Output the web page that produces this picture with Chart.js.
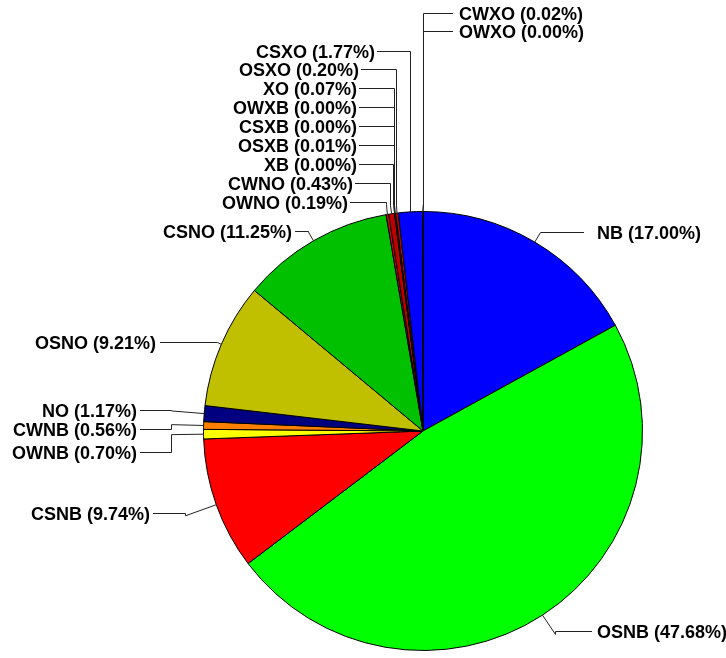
<!DOCTYPE html>
<html>
<head>
<meta charset="utf-8">
<script src="https://cdn.jsdelivr.net/npm/chart.js@4.4.1/dist/chart.umd.min.js"></script>
<style>
  html, body { margin: 0; padding: 0; background: #fff; }
  #wrap { width: 726px; height: 658px; }
</style>
</head>
<body>
<div id="wrap"><canvas id="pie"></canvas></div>
<script>
// slice data, clockwise from 12 o'clock
const categories = ['NB', 'OSNB', 'CSNB', 'OWNB', 'CWNB', 'NO', 'OSNO', 'CSNO', 'OWNO', 'CWNO',
  'XB', 'OSXB', 'CSXB', 'OWXB', 'XO', 'OSXO', 'CSXO', 'CWXO', 'OWXO'];
const shares = [17.00, 47.68, 9.74, 0.70, 0.56, 1.17, 9.21, 11.25, 0.19, 0.43,
  0.00, 0.01, 0.00, 0.00, 0.07, 0.20, 1.77, 0.02, 0.00];
const colors = ['#0000ff', '#00ff00', '#ff0000', '#ffff00', '#ff8000', '#000080', '#c0c000', '#00c000', '#e00000', '#c00000',
  '#ffff00', '#c0a000', '#ff8000', '#ffff00', '#800000', '#c00000', '#0000ff', '#000080', '#ffff00'];

// where each label sits: side, leader y, text x, leader end x, radial knee length
const labelPos = {
  NB:   {side: 'R', y: 232, tx: 597, lx: 584, ext: 11},
  OSNB: {side: 'R', y: 631, tx: 597, lx: 592, ext: 23},
  CSNB: {side: 'L', y: 513, tx: 150, lx: 153, ext: 33},
  OWNB: {side: 'L', y: 452, tx: 137, lx: 140, ext: 33},
  CWNB: {side: 'L', y: 429, tx: 137, lx: 140, ext: 33},
  NO:   {side: 'L', y: 410, tx: 137, lx: 140, ext: 33},
  OSNO: {side: 'L', y: 342, tx: 156, lx: 160, ext: 5},
  CSNO: {side: 'L', y: 231, tx: 292, lx: 295, ext: 10},
  OWNO: {side: 'L', y: 202, tx: 348, lx: 350, ext: 10},
  CWNO: {side: 'L', y: 183, tx: 353, lx: 355, ext: 8},
  XB:   {side: 'L', y: 164, tx: 357, lx: 359, ext: 8},
  OSXB: {side: 'L', y: 145, tx: 357, lx: 359, ext: 8},
  CSXB: {side: 'L', y: 126, tx: 357, lx: 359, ext: 8},
  OWXB: {side: 'L', y: 107, tx: 357, lx: 359, ext: 8},
  XO:   {side: 'L', y: 88,  tx: 357, lx: 359, ext: 8},
  OSXO: {side: 'L', y: 69,  tx: 359, lx: 361, ext: 8},
  CSXO: {side: 'L', y: 51,  tx: 375, lx: 377, ext: 8},
  CWXO: {side: 'R', y: 13,  tx: 459, lx: 453, ext: 8},
  OWXO: {side: 'R', y: 31,  tx: 459, lx: 453, ext: 8}
};

const leaderLabels = {
  id: 'leaderLabels',
  afterDatasetsDraw(chart) {
    const ctx = chart.ctx;
    const arcs = chart.getDatasetMeta(0).data;
    ctx.save();
    ctx.font = 'bold 18px "Liberation Sans", Arial, sans-serif';
    ctx.textBaseline = 'middle';
    ctx.strokeStyle = '#222';
    ctx.lineWidth = 1;
    arcs.forEach((arc, i) => {
      const name = categories[i];
      const pos = labelPos[name];
      const mid = (arc.startAngle + arc.endAngle) / 2;
      const r = arc.outerRadius;
      const x0 = arc.x + Math.cos(mid) * r;
      const y0 = arc.y + Math.sin(mid) * r;
      const x1 = arc.x + Math.cos(mid) * (r + pos.ext);
      const y1 = arc.y + Math.sin(mid) * (r + pos.ext);
      const ly = pos.y + 0.5;
      const kx = Math.round(x1) + 0.5;
      ctx.beginPath();
      ctx.moveTo(x0, y0);
      ctx.lineTo(kx, y1);
      ctx.lineTo(kx, ly);
      ctx.lineTo(pos.lx, ly);
      ctx.stroke();
      ctx.fillStyle = '#000';
      ctx.textAlign = pos.side === 'L' ? 'right' : 'left';
      ctx.fillText(name + ' (' + shares[i].toFixed(2) + '%)', pos.tx, pos.y + 2);
    });
    ctx.restore();
  }
};

new Chart(document.getElementById('pie'), {
  type: 'pie',
  data: {
    labels: categories,
    datasets: [{
      data: shares,
      backgroundColor: colors,
      borderColor: '#000',
      borderWidth: 1,
      hoverOffset: 0
    }]
  },
  options: {
    responsive: true,
    maintainAspectRatio: false,
    animation: false,
    layout: {padding: {left: 203, right: 83, top: 211, bottom: 7}},
    plugins: {
      legend: {display: false},
      tooltip: {enabled: false}
    }
  },
  plugins: [leaderLabels]
});
</script>
</body>
</html>
